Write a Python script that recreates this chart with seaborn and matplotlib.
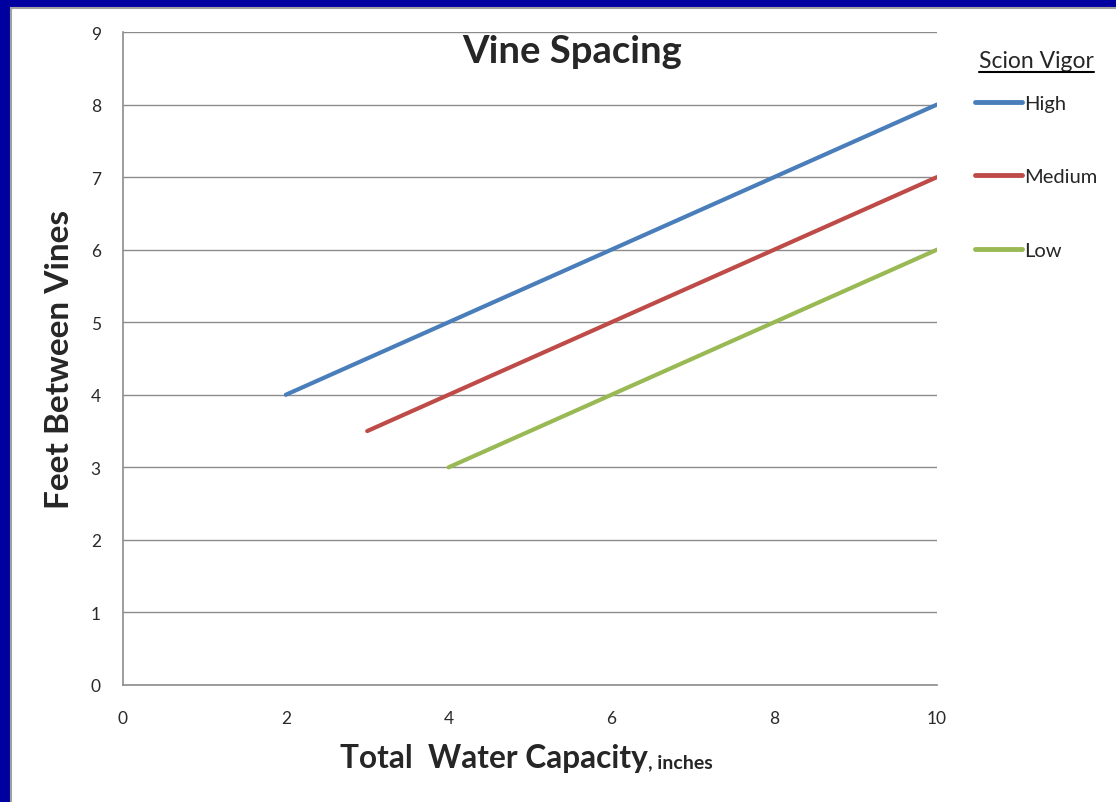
import pandas as pd
import matplotlib.pyplot as plt
import seaborn as sns
from matplotlib.patches import Rectangle
from matplotlib.lines import Line2D

# data
vigor_levels = ['High', 'Medium', 'Low']
high_x = [2, 4, 6, 8, 10]
high_y = [4, 5, 6, 7, 8]
medium_x = [3, 4, 6, 8, 10]
medium_y = [3.5, 4, 5, 6, 7]
low_x = [4, 6, 8, 10]
low_y = [3, 4, 5, 6]
line_colors = ['#4A7EBB', '#BE4B48', '#98B954']

df = pd.concat([
    pd.DataFrame({'x': high_x, 'y': high_y, 'Vigor': 'High'}),
    pd.DataFrame({'x': medium_x, 'y': medium_y, 'Vigor': 'Medium'}),
    pd.DataFrame({'x': low_x, 'y': low_y, 'Vigor': 'Low'}),
], ignore_index=True)

sns.set_style('white')
plt.rcParams['font.family'] = ['Lato', 'DejaVu Sans']

fig = plt.figure(figsize=(11.16, 8.03), dpi=100)
fig.patch.set_facecolor('#0000A0')
fig.patches.append(Rectangle((11 / 1116, -0.1), 1.2, 1.1 - 9 / 803, transform=fig.transFigure,
                             facecolor='white', edgecolor='#A0A0A0', linewidth=1.5, zorder=-1))
ax = fig.add_axes([123 / 1116, 1 - 686 / 803, (937 - 123) / 1116, (686 - 33) / 803])

sns.lineplot(data=df, x='x', y='y', hue='Vigor', hue_order=vigor_levels,
             palette=dict(zip(vigor_levels, line_colors)), linewidth=3, ax=ax,
             estimator=None, sort=True)

ax.set_xlim(0, 10)
ax.set_ylim(0, 9)
ax.set_xticks(range(0, 11, 2))
ax.set_yticks(range(0, 10))
ax.grid(axis='y', color='#8C8C8C', linewidth=1)
ax.set_axisbelow(True)
for s in ['top', 'right']:
    ax.spines[s].set_visible(False)
for s in ['left', 'bottom']:
    ax.spines[s].set_color('#8C8C8C')
    ax.spines[s].set_linewidth(1.2)
ax.tick_params(axis='both', direction='out', length=6, width=1.2, color='#8C8C8C',
               labelsize=12.5, labelcolor='#2A2A2A')
ax.tick_params(axis='y', pad=10)
ax.tick_params(axis='x', pad=12)

ax.set_xlabel('')
ax.set_ylabel('Feet Between Vines', fontsize=24, fontweight='bold', labelpad=12)
fig.text(648 / 1116, 1 - 768 / 803, 'Total  Water Capacity', fontsize=22.8,
         fontweight='bold', ha='right', va='baseline')
fig.text(648 / 1116, 1 - 768 / 803, ', inches', fontsize=14, fontweight='bold',
         ha='left', va='baseline')
ax.text(0.552, 0.971, 'Vine Spacing', transform=ax.transAxes, fontsize=27.5,
        fontweight='bold', ha='center', va='center')

leg = ax.legend(loc='upper left', bbox_to_anchor=(975 / 1116, 1 - 51 / 803),
                bbox_transform=fig.transFigure, frameon=False, fontsize=14.5,
                title='Scion Vigor', title_fontsize=16.5, borderpad=0, borderaxespad=0,
                labelspacing=2.8, handlelength=2.35, handletextpad=0.1)
leg._legend_box.align = 'center'
leg._legend_box.sep = 17
for line in leg.get_lines():
    line.set_linewidth(3.5)

# underline the legend title
fig.canvas.draw()
bb = leg.get_title().get_window_extent()
fig.add_artist(Line2D([bb.x0, bb.x1], [bb.y0 - 1, bb.y0 - 1], transform=None,
                      color='black', linewidth=1.5))

fig.savefig('out.png', dpi=100, facecolor=fig.get_facecolor())
